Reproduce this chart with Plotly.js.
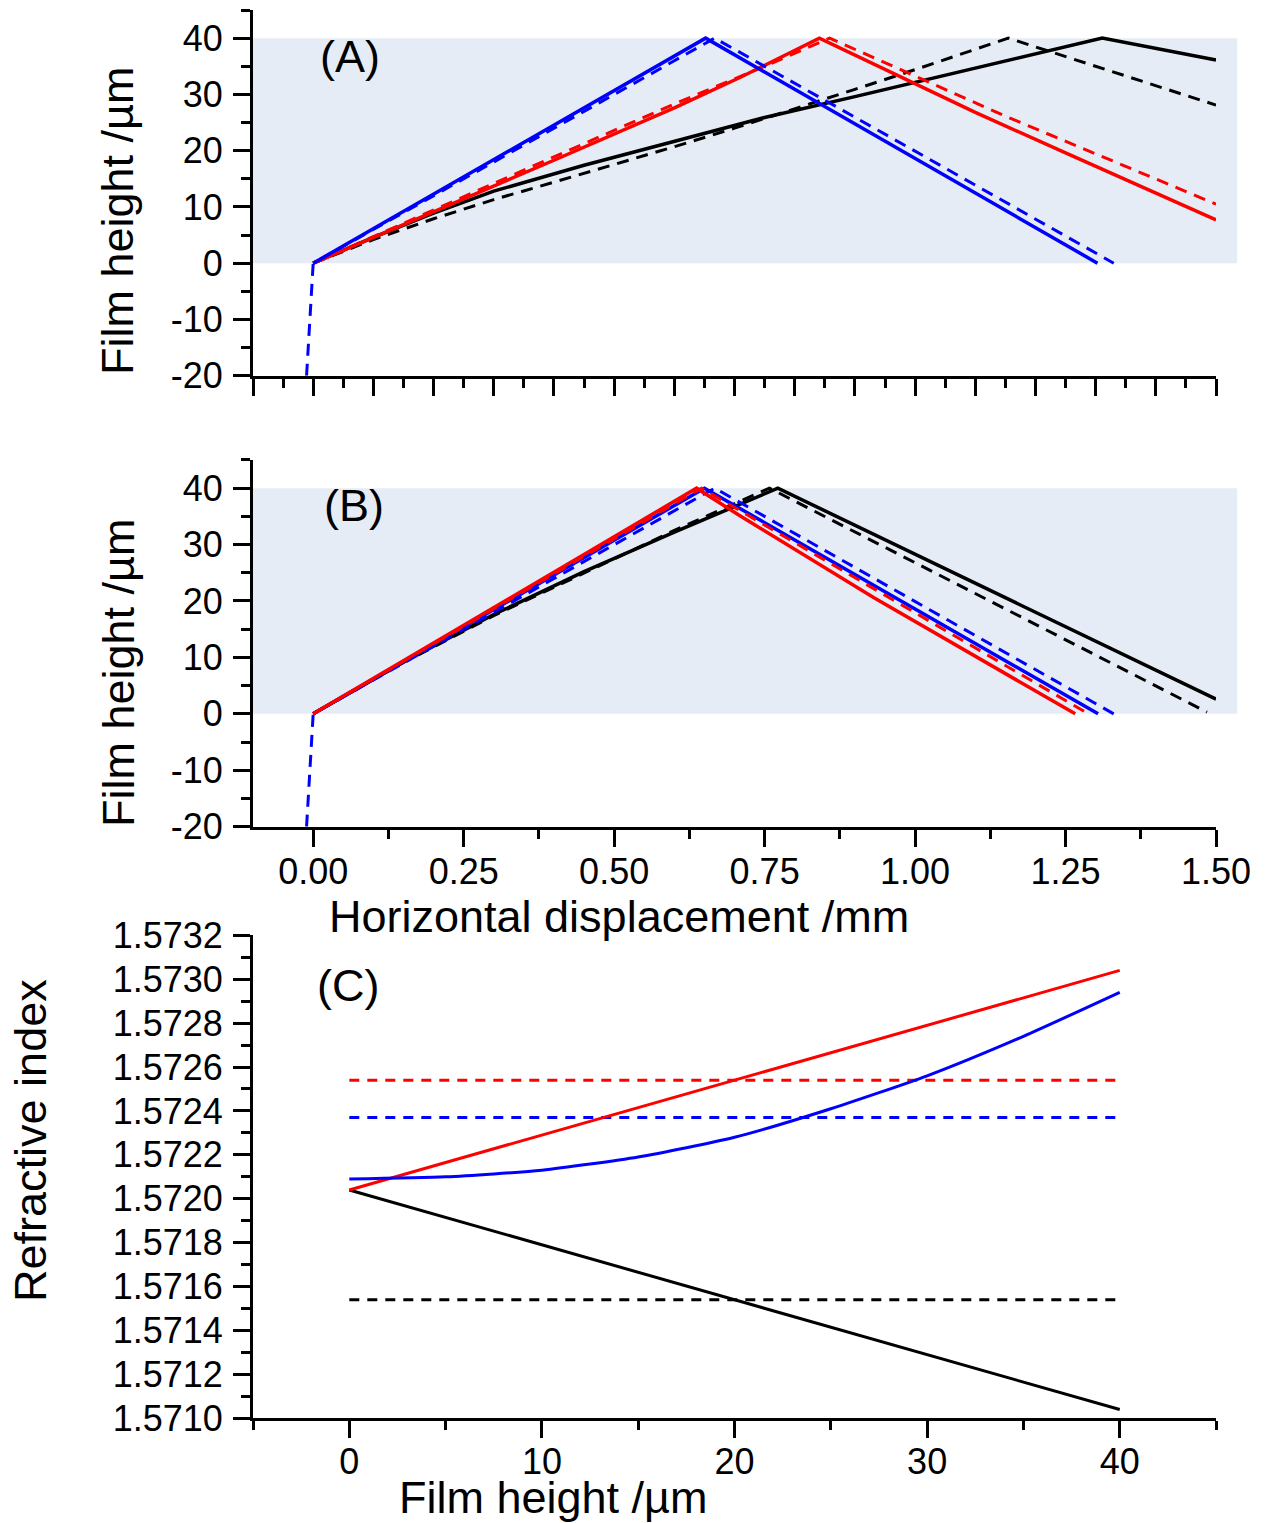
<!DOCTYPE html>
<html>
<head>
<meta charset="utf-8">
<script src="https://cdn.plot.ly/plotly-3.0.1.min.js"></script>
<style>html,body{margin:0;padding:0;background:#fff;}#chart{width:1265px;height:1523px;}</style>
</head>
<body>
<div id="chart"></div>
<script>
// ---------- Panel (A): film profile, horizontal displacement (mm) vs film height (um)
const aBlueSolidX = [0, 0.652, 1.303];
const aBlueSolidY = [0, 40, 0];
const aBlueDashX  = [-0.011, 0, 0.667, 1.33];
const aBlueDashY  = [-20, 0, 40, 0];
const aRedSolidX  = [0, 0.2, 0.4, 0.6, 0.709, 0.841, 0.95, 1.1, 1.25, 1.5];
const aRedSolidY  = [0, 9.1, 18.3, 27.6, 33.0, 40, 34.4, 26.8, 19.6, 7.7];
const aRedDashX   = [0, 0.2, 0.4, 0.6, 0.75, 0.858, 1.153, 1.5];
const aRedDashY   = [0, 9.5, 18.9, 28.3, 35.0, 40, 26.0, 10.5];
const aBlackSolidX = [0, 0.1, 0.2, 0.3, 0.45, 0.6, 0.75, 0.9, 1.05, 1.2, 1.311, 1.5];
const aBlackSolidY = [0, 4.6, 8.9, 12.8, 17.4, 21.7, 25.9, 29.6, 33.4, 37.1, 40, 36.1];
const aBlackDashX  = [0, 0.1, 0.2, 0.3, 0.4, 0.5, 0.6, 0.7, 0.8, 0.9, 1.0, 1.155, 1.5];
const aBlackDashY  = [0, 4.2, 7.9, 11.3, 14.4, 17.5, 20.7, 24.0, 27.4, 30.9, 34.4, 40, 28.1];

// ---------- Panel (B)
const bBlueSolidX = [0, 0.65, 1.304];
const bBlueSolidY = [0, 40, 0];
const bBlueDashX  = [-0.011, 0, 0.667, 1.33];
const bBlueDashY  = [-20, 0, 40, 0];
const bRedSolidX  = [0, 0.637, 0.709, 0.931, 1.266];
const bRedSolidY  = [0, 40, 35.1, 20.6, 0];
const bRedDashX   = [0, 0.645, 1.288];
const bRedDashY   = [0, 40, 0];
const bBlackSolidX = [0, 0.15, 0.3, 0.45, 0.6, 0.772, 1.5];
const bBlackSolidY = [0, 9.2, 17.6, 25.2, 32.2, 40, 2.6];
const bBlackDashX  = [0, 0.15, 0.3, 0.45, 0.6, 0.758, 1.485];
const bBlackDashY  = [0, 9.1, 17.4, 25.0, 32.5, 40, 0.3];

// ---------- Panel (C): refractive index vs film height (um)
const cHeight     = [0, 5, 10, 15, 20, 25, 30, 35, 40];
const cBlueN      = [1.57209, 1.57210, 1.57213, 1.57219, 1.57228, 1.57241, 1.57256, 1.57274, 1.57294];
const cEnds       = [0, 40];
const cRedN       = [1.57204, 1.57304];
const cBlackN     = [1.57204, 1.57104];
const cRedMeanN   = [1.57254, 1.57254];
const cBlueMeanN  = [1.57237, 1.57237];
const cBlackMeanN = [1.57154, 1.57154];

// tick labels (hyphen minus as in the original)
const heightTickVals = [-20, -10, 0, 10, 20, 30, 40];
const heightTickText = ['-20', '-10', '0', '10', '20', '30', '40'];

// shaded film band (um)
const bandLow = 0, bandHigh = 40;

// ---------- traces
const BLUE = '#0000ff', RED = '#ff0000', BLACK = '#000000';
const DASH = '12px,8px';
const DASHC = '10px,8px';
function tr(x, y, color, dashed, xa, ya, w, dashPattern, shape) {
  const ln = {color: color, width: w, dash: dashed ? dashPattern : 'solid', shape: shape || 'linear'};
  if (shape === 'spline') ln.smoothing = 0.6;
  return {
    x: x, y: y, xaxis: xa, yaxis: ya, type: 'scatter', mode: 'lines',
    line: ln, hoverinfo: 'skip', showlegend: false
  };
}
const SW = 3.5, DW = 3;
const data = [
  tr(aBlackDashX, aBlackDashY, BLACK, true, 'x', 'y', DW, DASH),
  tr(aBlackSolidX, aBlackSolidY, BLACK, false, 'x', 'y', SW, DASH),
  tr(aRedDashX, aRedDashY, RED, true, 'x', 'y', DW, DASH),
  tr(aRedSolidX, aRedSolidY, RED, false, 'x', 'y', SW, DASH),
  tr(aBlueDashX, aBlueDashY, BLUE, true, 'x', 'y', DW, DASH),
  tr(aBlueSolidX, aBlueSolidY, BLUE, false, 'x', 'y', SW, DASH),

  tr(bBlackDashX, bBlackDashY, BLACK, true, 'x2', 'y2', DW, DASH),
  tr(bBlackSolidX, bBlackSolidY, BLACK, false, 'x2', 'y2', SW, DASH),
  tr(bBlueDashX, bBlueDashY, BLUE, true, 'x2', 'y2', DW, DASH),
  tr(bBlueSolidX, bBlueSolidY, BLUE, false, 'x2', 'y2', SW, DASH),
  tr(bRedDashX, bRedDashY, RED, true, 'x2', 'y2', DW, DASH),
  tr(bRedSolidX, bRedSolidY, RED, false, 'x2', 'y2', SW, DASH),

  tr(cEnds, cRedMeanN, RED, true, 'x3', 'y3', DW, DASHC),
  tr(cEnds, cBlueMeanN, BLUE, true, 'x3', 'y3', DW, DASHC),
  tr(cEnds, cBlackMeanN, BLACK, true, 'x3', 'y3', DW, DASHC),
  tr(cEnds, cBlackN, BLACK, false, 'x3', 'y3', 3, DASHC),
  tr(cEnds, cRedN, RED, false, 'x3', 'y3', 3, DASHC),
  tr(cHeight, cBlueN, BLUE, false, 'x3', 'y3', 3, DASHC, 'spline')
];

// ---------- layout
const FONT = 'Liberation Sans, Arial, Helvetica, sans-serif';
const TICKFONT = {family: FONT, size: 36, color: '#000'};
function minorTicks(dt, t0) {
  return {dtick: dt, tick0: t0, ticks: 'outside', ticklen: 9, tickwidth: 3, tickcolor: '#000', showgrid: false};
}
function axisBase(extra) {
  return Object.assign({
    showline: true, linecolor: '#000', linewidth: 3,
    ticks: 'outside', ticklen: 17, tickwidth: 3, tickcolor: '#000',
    showgrid: false, zeroline: false, tickfont: TICKFONT,
    fixedrange: true
  }, extra);
}
const XDOM = [0.2, 0.9613];
const layout = {
  width: 1265, height: 1523,
  margin: {l: 0, r: 0, t: 0, b: 0, pad: 0},
  paper_bgcolor: '#ffffff', plot_bgcolor: 'rgba(0,0,0,0)',
  showlegend: false,
  font: {family: FONT, color: '#000'},
  xaxis: axisBase({domain: XDOM, anchor: 'y', range: [-0.1, 1.5], tick0: 0, dtick: 0.1,
    showticklabels: false, minor: minorTicks(0.05, 0)}),
  yaxis: axisBase({domain: [0.7533, 0.99343], anchor: 'x', range: [-20, 45],
    tickmode: 'array', tickvals: heightTickVals, ticktext: heightTickText, ticklabelstandoff: 3,
    minor: minorTicks(5, 0)}),
  xaxis2: axisBase({domain: XDOM, anchor: 'y2', range: [-0.1, 1.5], tick0: 0, dtick: 0.25, tickformat: '.2f',
    ticklabelstandoff: -6, minor: minorTicks(0.125, 0)}),
  yaxis2: axisBase({domain: [0.4572, 0.6980], anchor: 'x2', range: [-20, 45],
    tickmode: 'array', tickvals: heightTickVals, ticktext: heightTickText, ticklabelstandoff: 3,
    minor: minorTicks(5, 0)}),
  xaxis3: axisBase({domain: XDOM, anchor: 'y3', range: [-5, 45], tick0: 0, dtick: 10,
    ticklabelstandoff: -7, minor: minorTicks(5, 0)}),
  yaxis3: axisBase({domain: [0.06875, 0.38589], anchor: 'x3', range: [1.57099999, 1.57320001], tick0: 1.571, dtick: 0.0002,
    tickformat: '.4f', ticklabelstandoff: 3, minor: minorTicks(0.0001, 1.571)}),
  shapes: [
    {type: 'rect', xref: 'x domain', yref: 'y', x0: 0, x1: 1.022, y0: bandLow, y1: bandHigh,
     fillcolor: '#e6ecf5', line: {width: 0}, layer: 'below'},
    {type: 'rect', xref: 'x2 domain', yref: 'y2', x0: 0, x1: 1.022, y0: bandLow, y1: bandHigh,
     fillcolor: '#e6ecf5', line: {width: 0}, layer: 'below'}
  ],
  annotations: [
    {text: '(A)', xref: 'paper', yref: 'paper', x: 0.2767, y: 0.9626, showarrow: false,
     xanchor: 'center', yanchor: 'middle', font: {family: FONT, size: 45, color: '#000'}},
    {text: '(B)', xref: 'paper', yref: 'paper', x: 0.2798, y: 0.6678, showarrow: false,
     xanchor: 'center', yanchor: 'middle', font: {family: FONT, size: 45, color: '#000'}},
    {text: '(C)', xref: 'paper', yref: 'paper', x: 0.2751, y: 0.3526, showarrow: false,
     xanchor: 'center', yanchor: 'middle', font: {family: FONT, size: 45, color: '#000'}},
    {text: 'Film height /µm', xref: 'paper', yref: 'paper', x: 0.0933, y: 0.8549, textangle: -90, showarrow: false,
     xanchor: 'center', yanchor: 'middle', font: {family: FONT, size: 45, color: '#000'}},
    {text: 'Film height /µm', xref: 'paper', yref: 'paper', x: 0.0933, y: 0.5581, textangle: -90, showarrow: false,
     xanchor: 'center', yanchor: 'middle', font: {family: FONT, size: 45, color: '#000'}},
    {text: 'Refractive index', xref: 'paper', yref: 'paper', x: 0.0245, y: 0.2515, textangle: -90, showarrow: false,
     xanchor: 'center', yanchor: 'middle', font: {family: FONT, size: 45, color: '#000'}},
    {text: 'Horizontal displacement /mm', xref: 'paper', yref: 'paper', x: 0.4893, y: 0.3985, showarrow: false,
     xanchor: 'center', yanchor: 'middle', font: {family: FONT, size: 45, color: '#000'}},
    {text: 'Film height /µm', xref: 'paper', yref: 'paper', x: 0.4379, y: 0.0168, showarrow: false,
     xanchor: 'center', yanchor: 'middle', font: {family: FONT, size: 45, color: '#000'}}
  ]
};

Plotly.newPlot('chart', data, layout, {displayModeBar: false, staticPlot: true});
</script>
</body>
</html>
